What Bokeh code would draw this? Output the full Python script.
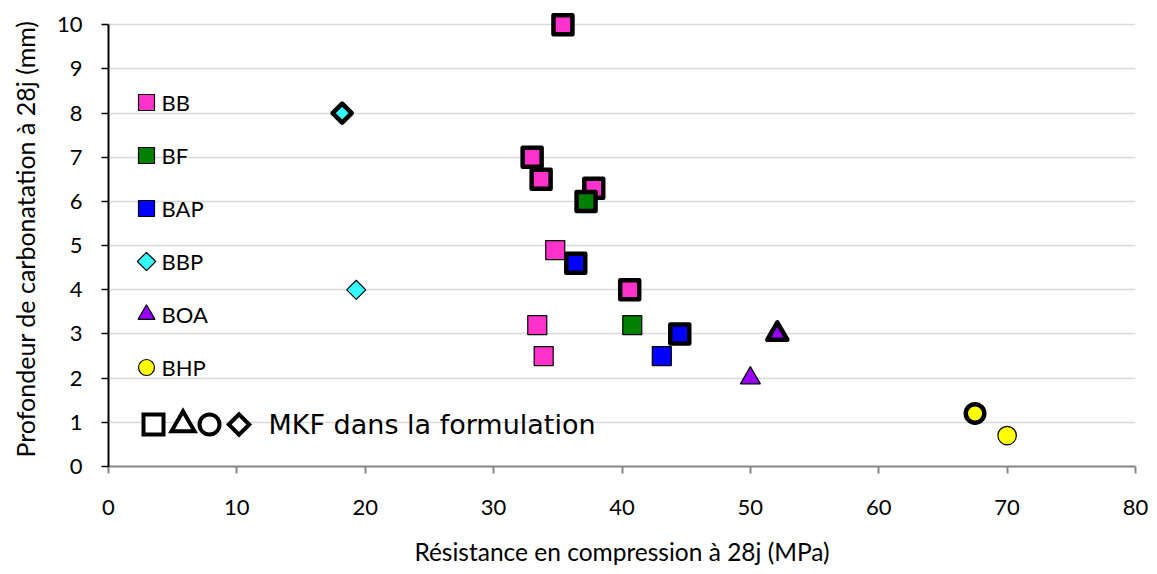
import math
from bokeh.plotting import figure
from bokeh.models import Range1d, Label, FixedTicker
from bokeh.embed import file_html
from bokeh.resources import INLINE

# ---- data (x: compressive strength MPa, y: carbonation depth mm) ----
BB_x = [34.8, 33.4, 33.9]
BB_y = [4.9, 3.2, 2.5]
BB_mkf_x = [35.4, 33.0, 33.7, 37.8, 40.6]
BB_mkf_y = [10.0, 7.0, 6.5, 6.3, 4.0]

BF_x = [40.8]
BF_y = [3.2]
BF_mkf_x = [37.2]
BF_mkf_y = [6.0]

BAP_x = [43.1]
BAP_y = [2.5]
BAP_mkf_x = [36.4, 44.5]
BAP_mkf_y = [4.6, 3.0]

BBP_x = [19.3]
BBP_y = [4.0]
BBP_mkf_x = [18.2]
BBP_mkf_y = [8.0]

BOA_x = [50.0]
BOA_y = [2.0]
BOA_mkf_x = [52.1]
BOA_mkf_y = [3.0]

BHP_x = [70.0]
BHP_y = [0.7]
BHP_mkf_x = [67.5]
BHP_mkf_y = [1.2]

series_names = ["BB", "BF", "BAP", "BBP", "BOA", "BHP"]
x_ticks = [0, 10, 20, 30, 40, 50, 60, 70, 80]
y_ticks = [0, 1, 2, 3, 4, 5, 6, 7, 8, 9, 10]
mkf_note = "MKF dans la formulation"

FONT = "Lato"
FW, FH = 1027, 455

p = figure(output_backend="svg", toolbar_location=None,
           frame_width=FW, frame_height=FH,
           min_border_left=108, min_border_right=20,
           min_border_top=11, min_border_bottom=100,
           x_range=Range1d(0, 80), y_range=Range1d(0, 10.3))
p.outline_line_color = None
p.background_fill_color = "white"
p.border_fill_color = "white"

# pixel-space ranges used only to place the key (legend)
p.extra_x_ranges = {"key": Range1d(0, FW)}
p.extra_y_ranges = {"key": Range1d(FH, 0)}

# axes
p.xaxis.ticker = FixedTicker(ticks=x_ticks)
p.yaxis.ticker = FixedTicker(ticks=y_ticks)
p.yaxis.bounds = (0, 10)
p.xaxis.axis_line_color = "#868686"
p.xaxis.axis_line_width = 2
p.xaxis.major_tick_line_color = "#868686"
p.xaxis.major_tick_line_width = 2
p.xaxis.major_tick_out = 7
p.xaxis.major_tick_in = 0
p.yaxis.axis_line_color = "black"
p.yaxis.axis_line_width = 2
p.yaxis.major_tick_line_color = "black"
p.yaxis.major_tick_line_width = 1.5
p.yaxis.major_tick_out = 7
p.yaxis.major_tick_in = 0
for ax in (p.xaxis, p.yaxis):
    ax.minor_tick_line_color = None
    ax.major_label_text_font = FONT
    ax.major_label_text_font_size = "22px"
    ax.major_label_text_color = "black"
    ax.axis_label_text_font = FONT
    ax.axis_label_text_font_style = "normal"
    ax.axis_label_text_color = "black"
p.xaxis.axis_label_text_font_size = "24.5px"
p.yaxis.axis_label_text_font_size = "25px"
p.xaxis.major_label_standoff = 26
p.yaxis.major_label_standoff = 19
p.xaxis.axis_label = "Résistance en compression à 28j (MPa)"
p.yaxis.axis_label = "Profondeur de carbonatation à 28j (mm)"
p.xaxis.axis_label_standoff = 19
p.yaxis.axis_label_standoff = 14

p.xgrid.grid_line_color = None
p.ygrid.grid_line_color = "#d9d9d9"
p.ygrid.grid_line_width = 1.5
p.ygrid.ticker = FixedTicker(ticks=y_ticks[1:])

NORMAL_LW = 1.2
MKF_LW = 4.5

styles = {
    "BB": ("square", "#FF33CC", 19, 0.0),
    "BF": ("square", "#008000", 19, 0.0),
    "BAP": ("square", "#0000FF", 19, 0.0),
    "BBP": ("square", "#33FFFF", 13.5, math.pi / 4),
    "BOA": ("triangle", "#9900FF", 20, 0.0),
    "BHP": ("circle", "#FFFF00", 18.5, 0.0),
}
data = {
    "BB": (BB_x, BB_y, BB_mkf_x, BB_mkf_y),
    "BF": (BF_x, BF_y, BF_mkf_x, BF_mkf_y),
    "BAP": (BAP_x, BAP_y, BAP_mkf_x, BAP_mkf_y),
    "BBP": (BBP_x, BBP_y, BBP_mkf_x, BBP_mkf_y),
    "BOA": (BOA_x, BOA_y, BOA_mkf_x, BOA_mkf_y),
    "BHP": (BHP_x, BHP_y, BHP_mkf_x, BHP_mkf_y),
}

for name in series_names:
    marker, color, size, angle = styles[name]
    xs, ys, mx, my = data[name]
    p.scatter(x=xs, y=ys, marker=marker, size=size, angle=angle,
              fill_color=color, line_color="black", line_width=NORMAL_LW)
    p.scatter(x=mx, y=my, marker=marker, size=size, angle=angle,
              fill_color=color, line_color="black", line_width=MKF_LW,
              line_join="round")

# ---- key (legend), laid out in frame pixels ----
KEY_X, KEY_Y0, KEY_DY, KEY_TX = 38, 91, 53, 53
key_sizes = {"square": 16, "triangle": 17, "circle": 16}
for i, name in enumerate(series_names):
    marker, color, size, angle = styles[name]
    ks = 13 if angle else key_sizes[marker]
    ky = KEY_Y0 + i * KEY_DY
    p.scatter(x=[KEY_X], y=[ky], marker=marker, size=ks, angle=angle,
              fill_color=color, line_color="black", line_width=1.2,
              x_range_name="key", y_range_name="key")
    p.add_layout(Label(x=KEY_TX, y=ky, text=name, x_range_name="key",
                       y_range_name="key", text_font=FONT,
                       text_font_size="22px", text_baseline="middle",
                       text_align="left", text_color="black"))

MKF_Y = 413
mkf_keys = [("square", 20, 0.0, 45), ("triangle", 23, 0.0, 74.5),
            ("circle", 20, 0.0, 101), ("square", 14.5, math.pi / 4, 130.5)]
for marker, ks, angle, kx in mkf_keys:
    p.scatter(x=[kx], y=[MKF_Y], marker=marker, size=ks, angle=angle,
              fill_color="white", line_color="black", line_width=4,
              line_join="miter", x_range_name="key", y_range_name="key")
p.add_layout(Label(x=160, y=MKF_Y, text=mkf_note, x_range_name="key",
                   y_range_name="key", text_font="DejaVu Sans",
                   text_font_size="27px", text_baseline="middle",
                   text_align="left", text_color="black"))

open("out.html", "w").write(file_html(p, INLINE))
